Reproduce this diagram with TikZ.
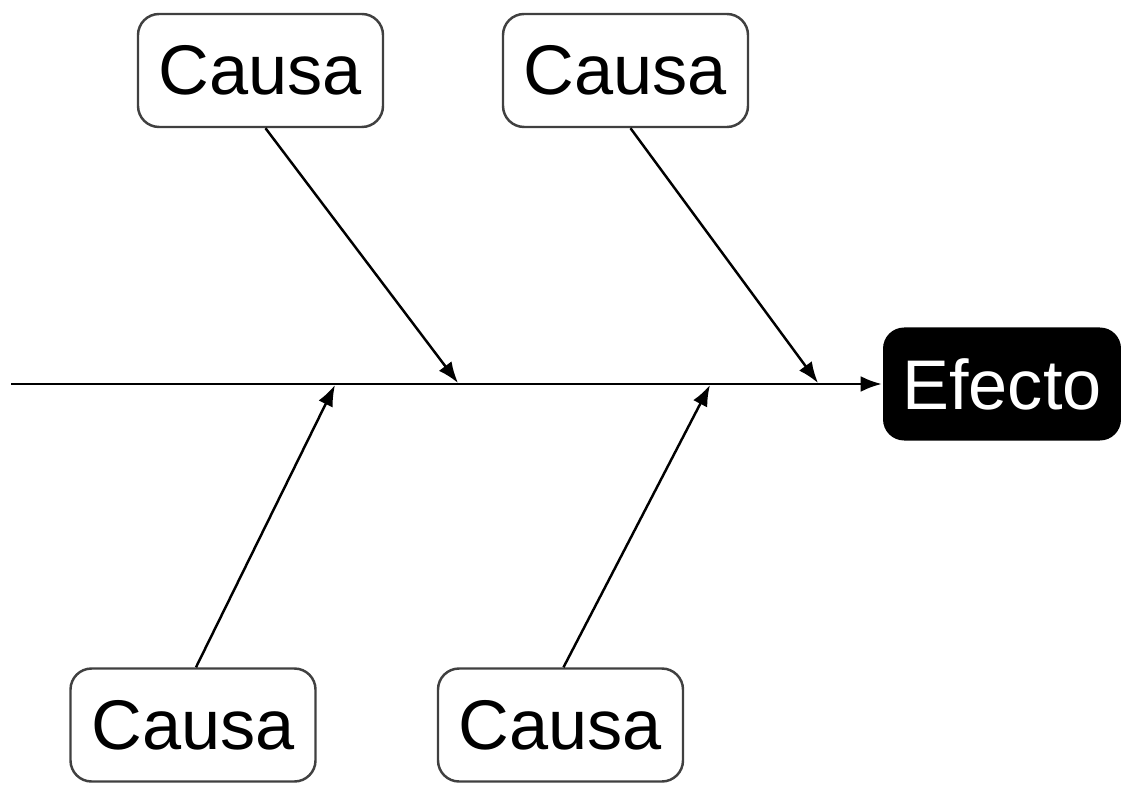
\documentclass[tikz,border=0pt]{standalone}
\usepackage{fontspec}
\setmainfont{Liberation Sans}
\usepackage{tikz}
\usetikzlibrary{arrows.meta,positioning,calc}
\tikzset{>={Latex[length=6pt,width=4.5pt]}}
\tikzset{causa/.style={draw=black!75,rounded corners=6pt,minimum width=2.45cm,minimum height=1.13cm,font=\fontsize{20}{24}\selectfont,line width=0.7pt}}
\tikzset{efecto/.style={fill=black,text=white,rounded corners=6pt,minimum width=2.38cm,minimum height=1.13cm,font=\fontsize{20}{24}\selectfont}}

\begin{document}
\begin{tikzpicture}[line width=0.7pt]

\useasboundingbox (0,0) rectangle (11.21,7.85);

\node [causa] (c1) at (2.605,7.145) {Causa};
\node [causa] (c2) at (6.255,7.145) {Causa};
\node [causa] (c3) at (1.93,0.60) {Causa};
\node [causa] (c4) at (5.605,0.60) {Causa};
\node [efecto] (e) at (10.02,4.01) {Efecto};

\coordinate (s) at (0.11,4.01);
\coordinate (p1) at (4.58,4.02);
\coordinate (p2) at (8.18,4.02);
\coordinate (p3) at (3.35,4.00);
\coordinate (p4) at (7.10,4.00);

\begin{scope}[line width=0.7pt]
\draw[->,color=black] (s) to (e.west);
\draw[->,color=black] ($(c1.south)+(0.05,0)$) to (p1);
\draw[->,color=black] ($(c2.south)+(0.05,0)$) to (p2);
\draw[->,color=black] ($(c3.north)+(0.03,0)$) to (p3);
\draw[->,color=black] ($(c4.north)+(0.03,0)$) to (p4);
\end{scope}

\end{tikzpicture}
\end{document}
